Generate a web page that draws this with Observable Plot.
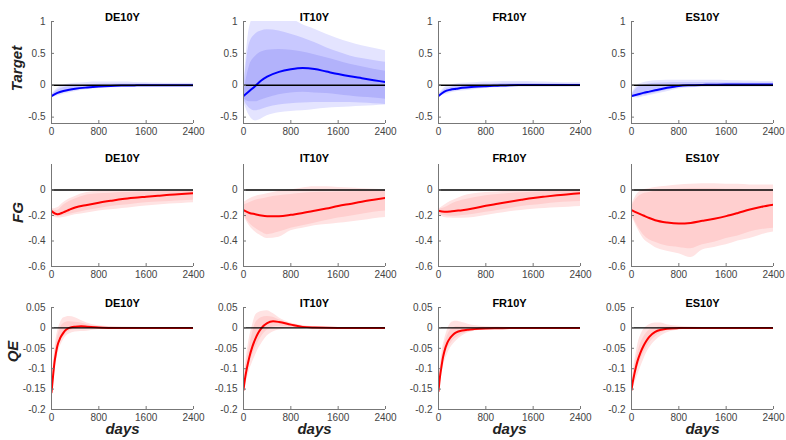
<!DOCTYPE html>
<html><head><meta charset="utf-8">
<script src="https://cdn.jsdelivr.net/npm/d3@7"></script>
<script src="https://cdn.jsdelivr.net/npm/@observablehq/plot@0.6"></script>
<style>
body{margin:0;background:#fff;}
#chart{position:relative;width:786px;height:440px;background:#fff;overflow:hidden;}
</style></head><body><div id="chart"></div><script>
// ---------- categories / labels ----------
const countries = ["DE10Y", "IT10Y", "FR10Y", "ES10Y"];
const rowLabels = ["Target", "FG", "QE"];
const xTicks = [0, 800, 1600, 2400];
const yTicksTarget = [-0.5, 0, 0.5, 1];
const yTicksFG = [-0.6, -0.4, -0.2, 0];
const yTicksQE = [-0.2, -0.15, -0.1, -0.05, 0, 0.05];

// ---------- time grids (days) ----------
const daysLong = [0,100,200,300,400,600,800,1000,1200,1400,1600,1800,2000,2200,2400];
const daysQE = [0,25,50,75,100,150,200,250,300,400,500,600,800,1000,1200,1600,2000,2400];

// ---------- Target row ----------
const tgtDE_med = [-0.17,-0.12,-0.09,-0.07,-0.055,-0.035,-0.02,-0.01,-0.005,-0.002,0,0,0,0,0];
const tgtDE_hiO = [-0.15,-0.05,0.0,0.02,0.03,0.045,0.05,0.05,0.05,0.045,0.04,0.035,0.03,0.03,0.03];
const tgtDE_loO = [-0.19,-0.17,-0.14,-0.12,-0.1,-0.07,-0.05,-0.04,-0.035,-0.03,-0.03,-0.03,-0.03,-0.03,-0.03];
const tgtDE_hiI = [-0.16,-0.08,-0.04,-0.02,-0.01,0.005,0.015,0.02,0.02,0.02,0.02,0.015,0.015,0.015,0.015];
const tgtDE_loI = [-0.18,-0.15,-0.12,-0.1,-0.085,-0.06,-0.04,-0.03,-0.025,-0.02,-0.018,-0.016,-0.015,-0.015,-0.015];

const tgtIT_med = [-0.17,-0.09,-0.01,0.075,0.135,0.21,0.25,0.27,0.255,0.215,0.175,0.14,0.11,0.08,0.05];
const tgtIT_hiO = [-0.1,0.9,1.1,1.1,1.1,1.1,1.05,0.95,0.88,0.8,0.73,0.67,0.62,0.58,0.54];
const tgtIT_loO = [-0.25,-0.48,-0.56,-0.53,-0.48,-0.43,-0.41,-0.4,-0.38,-0.36,-0.35,-0.34,-0.33,-0.32,-0.31];
const tgtIT_hiM = [-0.12,0.65,0.8,0.85,0.87,0.85,0.8,0.74,0.67,0.59,0.52,0.46,0.42,0.39,0.36];
const tgtIT_loM = [-0.22,-0.36,-0.4,-0.38,-0.35,-0.31,-0.29,-0.28,-0.27,-0.27,-0.27,-0.27,-0.28,-0.29,-0.3];
const tgtIT_hiI = [-0.14,0.3,0.45,0.52,0.55,0.56,0.55,0.52,0.48,0.43,0.38,0.33,0.29,0.25,0.22];
const tgtIT_loI = [-0.2,-0.26,-0.26,-0.23,-0.2,-0.15,-0.12,-0.11,-0.12,-0.13,-0.15,-0.17,-0.19,-0.2,-0.22];

const tgtFR_med = [-0.17,-0.1,-0.07,-0.055,-0.04,-0.025,-0.015,-0.007,0,0.003,0.005,0.005,0.005,0.005,0.005];
const tgtFR_hiO = [-0.15,-0.04,0.0,0.02,0.03,0.04,0.05,0.055,0.06,0.06,0.055,0.05,0.045,0.04,0.04];
const tgtFR_loO = [-0.19,-0.15,-0.12,-0.1,-0.09,-0.07,-0.05,-0.04,-0.035,-0.03,-0.03,-0.03,-0.03,-0.03,-0.03];
const tgtFR_hiI = [-0.16,-0.07,-0.035,-0.015,0.0,0.01,0.02,0.025,0.03,0.03,0.028,0.025,0.022,0.02,0.02];
const tgtFR_loI = [-0.18,-0.13,-0.1,-0.085,-0.07,-0.055,-0.04,-0.03,-0.022,-0.018,-0.015,-0.014,-0.013,-0.012,-0.012];

const tgtES_med = [-0.17,-0.145,-0.12,-0.1,-0.08,-0.04,-0.01,0.0,0.005,0.008,0.01,0.01,0.01,0.01,0.01];
const tgtES_hiO = [-0.15,0.0,0.04,0.06,0.07,0.08,0.08,0.08,0.08,0.08,0.075,0.07,0.065,0.06,0.06];
const tgtES_loO = [-0.19,-0.2,-0.18,-0.16,-0.14,-0.1,-0.06,-0.04,-0.035,-0.03,-0.03,-0.03,-0.03,-0.03,-0.03];
const tgtES_hiI = [-0.16,-0.04,0.0,0.02,0.03,0.04,0.045,0.045,0.045,0.045,0.04,0.04,0.035,0.035,0.035];
const tgtES_loI = [-0.18,-0.18,-0.16,-0.14,-0.12,-0.08,-0.04,-0.025,-0.02,-0.016,-0.014,-0.013,-0.012,-0.012,-0.012];

// ---------- FG row ----------
const fgDE_med = [-0.165,-0.19,-0.175,-0.155,-0.137,-0.117,-0.1,-0.085,-0.071,-0.061,-0.053,-0.045,-0.037,-0.031,-0.026];
const fgDE_hiO = [-0.15,-0.14,-0.1,-0.07,-0.05,-0.02,-0.012,-0.01,-0.008,-0.007,-0.006,-0.005,-0.005,-0.005,-0.005];
const fgDE_loO = [-0.2,-0.22,-0.215,-0.205,-0.195,-0.18,-0.165,-0.155,-0.145,-0.135,-0.125,-0.118,-0.11,-0.105,-0.1];
const fgDE_hiI = [-0.155,-0.16,-0.12,-0.09,-0.07,-0.04,-0.03,-0.025,-0.02,-0.017,-0.015,-0.013,-0.012,-0.011,-0.01];
const fgDE_loI = [-0.19,-0.21,-0.2,-0.19,-0.18,-0.16,-0.145,-0.13,-0.12,-0.11,-0.1,-0.095,-0.09,-0.085,-0.08];

const fgIT_med = [-0.158,-0.18,-0.19,-0.2,-0.205,-0.205,-0.195,-0.18,-0.163,-0.145,-0.126,-0.109,-0.092,-0.077,-0.063];
const fgIT_hiO = [-0.1,-0.07,-0.05,-0.04,-0.03,-0.01,0.0,0.015,0.025,0.025,0.02,0.015,0.01,0.005,0.0];
const fgIT_loO = [-0.2,-0.28,-0.33,-0.36,-0.38,-0.37,-0.32,-0.3,-0.28,-0.27,-0.26,-0.25,-0.24,-0.225,-0.215];
const fgIT_hiI = [-0.12,-0.1,-0.08,-0.07,-0.06,-0.045,-0.035,-0.025,-0.02,-0.018,-0.016,-0.014,-0.012,-0.01,-0.01];
const fgIT_loI = [-0.19,-0.26,-0.3,-0.33,-0.35,-0.33,-0.3,-0.28,-0.26,-0.24,-0.22,-0.205,-0.19,-0.175,-0.165];

const fgFR_med = [-0.163,-0.17,-0.168,-0.163,-0.158,-0.143,-0.124,-0.108,-0.092,-0.077,-0.063,-0.052,-0.042,-0.033,-0.026];
const fgFR_hiO = [-0.15,-0.12,-0.09,-0.07,-0.05,-0.03,-0.02,-0.015,-0.01,-0.007,-0.005,-0.003,-0.002,-0.001,0.0];
const fgFR_loO = [-0.2,-0.215,-0.22,-0.222,-0.222,-0.215,-0.2,-0.185,-0.17,-0.16,-0.15,-0.145,-0.14,-0.135,-0.13];
const fgFR_hiI = [-0.155,-0.14,-0.115,-0.095,-0.08,-0.06,-0.045,-0.035,-0.028,-0.022,-0.018,-0.014,-0.012,-0.01,-0.008];
const fgFR_loI = [-0.19,-0.2,-0.205,-0.205,-0.2,-0.19,-0.175,-0.16,-0.145,-0.13,-0.12,-0.11,-0.1,-0.095,-0.09];

const fgES_med = [-0.158,-0.18,-0.2,-0.22,-0.237,-0.255,-0.263,-0.258,-0.242,-0.225,-0.205,-0.18,-0.153,-0.132,-0.115];
const fgES_hiO = [-0.12,-0.03,0.0,0.01,0.02,0.03,0.04,0.045,0.05,0.05,0.045,0.045,0.04,0.04,0.04];
const fgES_loO = [-0.2,-0.3,-0.38,-0.42,-0.45,-0.48,-0.5,-0.53,-0.47,-0.45,-0.43,-0.4,-0.38,-0.35,-0.33];
const fgES_hiI = [-0.13,-0.06,-0.03,-0.02,-0.01,0.0,0.005,0.01,0.01,0.01,0.005,0.005,0.0,0.0,0.0];
const fgES_loI = [-0.19,-0.28,-0.35,-0.39,-0.41,-0.44,-0.45,-0.46,-0.43,-0.41,-0.38,-0.36,-0.33,-0.31,-0.3];

// ---------- QE row ----------
const qeDE_med = [-0.158,-0.12,-0.085,-0.062,-0.044,-0.024,-0.012,-0.004,0.0,0.003,0.004,0.003,0.001,0,0,0,0,0];
const qeDE_hiO = [-0.15,-0.1,-0.06,-0.03,-0.01,0.012,0.024,0.027,0.028,0.025,0.018,0.012,0.005,0.003,0.002,0.001,0,0];
const qeDE_loO = [-0.165,-0.14,-0.11,-0.09,-0.07,-0.045,-0.03,-0.02,-0.015,-0.01,-0.009,-0.008,-0.004,-0.002,-0.002,-0.001,0,0];
const qeDE_hiI = [-0.152,-0.11,-0.07,-0.045,-0.025,0.0,0.01,0.014,0.015,0.014,0.012,0.008,0.003,0.002,0.001,0,0,0];
const qeDE_loI = [-0.162,-0.13,-0.1,-0.078,-0.058,-0.035,-0.022,-0.013,-0.008,-0.004,-0.003,-0.003,-0.002,-0.001,-0.001,0,0,0];

const qeIT_med = [-0.152,-0.125,-0.104,-0.087,-0.071,-0.046,-0.027,-0.012,-0.001,0.012,0.016,0.0145,0.008,0.0025,0.001,0,0,0];
const qeIT_hiO = [-0.14,-0.1,-0.07,-0.045,-0.025,0.005,0.03,0.037,0.04,0.042,0.035,0.025,0.012,0.006,0.003,0.001,0,0];
const qeIT_loO = [-0.162,-0.145,-0.13,-0.118,-0.105,-0.085,-0.068,-0.052,-0.04,-0.02,-0.01,-0.005,-0.003,-0.002,-0.001,0,0,0];
const qeIT_hiI = [-0.145,-0.11,-0.085,-0.065,-0.045,-0.015,0.01,0.02,0.025,0.028,0.026,0.02,0.01,0.004,0.002,0,0,0];
const qeIT_loI = [-0.158,-0.138,-0.12,-0.105,-0.09,-0.068,-0.05,-0.035,-0.022,-0.006,0.002,0.004,0.002,0,0,0,0,0];

const qeFR_med = [-0.155,-0.12,-0.095,-0.073,-0.057,-0.036,-0.024,-0.016,-0.011,-0.0065,-0.0043,-0.003,-0.0014,-0.0008,-0.0004,0,0,0];
const qeFR_hiO = [-0.145,-0.1,-0.07,-0.045,-0.03,-0.005,0.01,0.015,0.016,0.013,0.009,0.006,0.003,0.002,0.001,0,0,0];
const qeFR_loO = [-0.162,-0.14,-0.12,-0.1,-0.085,-0.065,-0.05,-0.04,-0.032,-0.02,-0.012,-0.008,-0.004,-0.002,-0.001,0,0,0];
const qeFR_hiI = [-0.15,-0.11,-0.08,-0.058,-0.042,-0.02,-0.006,0.0,0.003,0.003,0.002,0.001,0,0,0,0,0,0];
const qeFR_loI = [-0.16,-0.13,-0.108,-0.088,-0.072,-0.052,-0.04,-0.03,-0.024,-0.015,-0.01,-0.006,-0.003,-0.0015,-0.001,0,0,0];

const qeES_med = [-0.152,-0.13,-0.112,-0.096,-0.082,-0.061,-0.045,-0.032,-0.022,-0.01,-0.0045,-0.002,-0.0005,0,0,0,0,0];
const qeES_hiO = [-0.14,-0.11,-0.085,-0.065,-0.045,-0.02,-0.005,0.003,0.008,0.012,0.012,0.008,0.004,0.002,0.001,0,0,0];
const qeES_loO = [-0.162,-0.15,-0.138,-0.128,-0.118,-0.098,-0.08,-0.063,-0.05,-0.032,-0.02,-0.012,-0.005,-0.002,-0.001,0,0,0];
const qeES_hiI = [-0.145,-0.12,-0.098,-0.08,-0.064,-0.04,-0.024,-0.013,-0.006,0.0,0.002,0.002,0.001,0,0,0,0,0];
const qeES_loI = [-0.158,-0.14,-0.125,-0.112,-0.1,-0.08,-0.064,-0.05,-0.038,-0.022,-0.012,-0.007,-0.002,-0.001,0,0,0,0];

// ---------- colours ----------
const blueBands = ["#e4e4ff", "#c8c8ff", "#b2b2fb"];
const redBands = ["#ffe3e3", "#ffcfcf"];
const blueLine = "#0000ff";
const redLine = "#ff0000";

// ---------- panel specification ----------
const rows = [
  {label: rowLabels[0], labelDx: -34, labelDy: -4, days: daysLong, domain: [-0.6, 1], ticks: yTicksTarget, line: blueLine, titleDy: -8,
   panels: [
     {med: tgtDE_med, bands: [[tgtDE_loO, tgtDE_hiO], [tgtDE_loI, tgtDE_hiI]], fills: [blueBands[0], blueBands[1]]},
     {med: tgtIT_med, bands: [[tgtIT_loO, tgtIT_hiO], [tgtIT_loM, tgtIT_hiM], [tgtIT_loI, tgtIT_hiI]], fills: blueBands},
     {med: tgtFR_med, bands: [[tgtFR_loO, tgtFR_hiO], [tgtFR_loI, tgtFR_hiI]], fills: [blueBands[0], blueBands[1]]},
     {med: tgtES_med, bands: [[tgtES_loO, tgtES_hiO], [tgtES_loI, tgtES_hiI]], fills: [blueBands[0], blueBands[1]]}
   ]},
  {label: rowLabels[1], labelDx: -33, labelDy: -3, days: daysLong, domain: [-0.6, 0.2], ticks: yTicksFG, line: redLine, titleDy: -10,
   panels: [
     {med: fgDE_med, bands: [[fgDE_loO, fgDE_hiO], [fgDE_loI, fgDE_hiI]], fills: redBands},
     {med: fgIT_med, bands: [[fgIT_loO, fgIT_hiO], [fgIT_loI, fgIT_hiI]], fills: redBands},
     {med: fgFR_med, bands: [[fgFR_loO, fgFR_hiO], [fgFR_loI, fgFR_hiI]], fills: redBands},
     {med: fgES_med, bands: [[fgES_loO, fgES_hiO], [fgES_loI, fgES_hiI]], fills: redBands}
   ]},
  {label: rowLabels[2], labelDx: -38, labelDy: -7, days: daysQE, domain: [-0.2, 0.05], ticks: yTicksQE, line: redLine, titleDy: -8,
   panels: [
     {med: qeDE_med, bands: [[qeDE_loO, qeDE_hiO], [qeDE_loI, qeDE_hiI]], fills: redBands},
     {med: qeIT_med, bands: [[qeIT_loO, qeIT_hiO], [qeIT_loI, qeIT_hiI]], fills: redBands},
     {med: qeFR_med, bands: [[qeFR_loO, qeFR_hiO], [qeFR_loI, qeFR_hiI]], fills: redBands},
     {med: qeES_med, bands: [[qeES_loO, qeES_hiO], [qeES_loI, qeES_hiI]], fills: redBands}
   ]}
];

// ---------- layout ----------
const frameLeft = [51, 243, 438, 631];
const frameW = 142;
const rowTop = [0, 143, 286];
const frameTop = 21, frameH = 102;
const mL = 45, mR = 10;
const FONT = "'Liberation Sans', Arial, sans-serif";

const container = document.getElementById("chart");

rows.forEach((row, r) => {
  const isLast = r === rows.length - 1;
  const h = isLast ? 154 : 140;
  row.panels.forEach((p, c) => {
    const days = row.days;
    const marks = [];
    p.bands.forEach((b, k) => {
      marks.push(Plot.areaY(days, {
        x: d => d, y1: (d, i) => b[0][i], y2: (d, i) => b[1][i],
        fill: p.fills[k], curve: "monotone-x", clip: true
      }));
    });
    marks.push(Plot.line(days, {x: d => d, y: (d, i) => p.med[i], stroke: row.line, strokeWidth: 2, curve: "monotone-x", clip: true}));
    marks.push(Plot.ruleY([0], {stroke: "#000", strokeWidth: 1.3}));
    // axis lines
    marks.push(Plot.ruleX([0], {stroke: "#777", strokeWidth: 1}));
    marks.push(Plot.ruleY([row.domain[0]], {stroke: "#777", strokeWidth: 1}));
    marks.push(Plot.axisY(row.ticks, {tickSize: -3, tickPadding: 9, stroke: "#777", fill: "#444", fontSize: 10, tickFormat: d => String(d)}));
    marks.push(Plot.axisX(xTicks, {tickSize: -3, tickPadding: 7, stroke: "#777", fill: "#444", fontSize: 10, tickFormat: d => String(d)}));
    // title
    marks.push(Plot.text([countries[c]], {text: d => d, frameAnchor: "top", dy: row.titleDy, fontWeight: "bold", fontSize: 11, fill: "#000"}));
    if (c === 0) {
      marks.push(Plot.text([row.label], {text: d => d, frameAnchor: "left", textAnchor: "middle", rotate: -90, dx: row.labelDx, dy: row.labelDy, fontWeight: "bold", fontStyle: "italic", fontSize: 15, fill: "#222"}));
    }
    if (isLast) {
      marks.push(Plot.text(["days"], {text: d => d, frameAnchor: "bottom", dy: 24, fontWeight: "bold", fontStyle: "italic", fontSize: 15, fill: "#222"}));
    }
    const svg = Plot.plot({
      width: mL + frameW + mR,
      height: h,
      marginLeft: mL, marginRight: mR,
      marginTop: frameTop, marginBottom: h - frameTop - frameH,
      x: {domain: [0, 2400], axis: null},
      y: {domain: row.domain, axis: null},
      style: {fontFamily: FONT, fontSize: "10px", background: "transparent", overflow: "visible"},
      marks
    });
    svg.style.position = "absolute";
    svg.style.left = (frameLeft[c] - mL) + "px";
    svg.style.top = rowTop[r] + "px";
    svg.style.maxWidth = "none";
    container.appendChild(svg);
  });
});
</script></body></html>
